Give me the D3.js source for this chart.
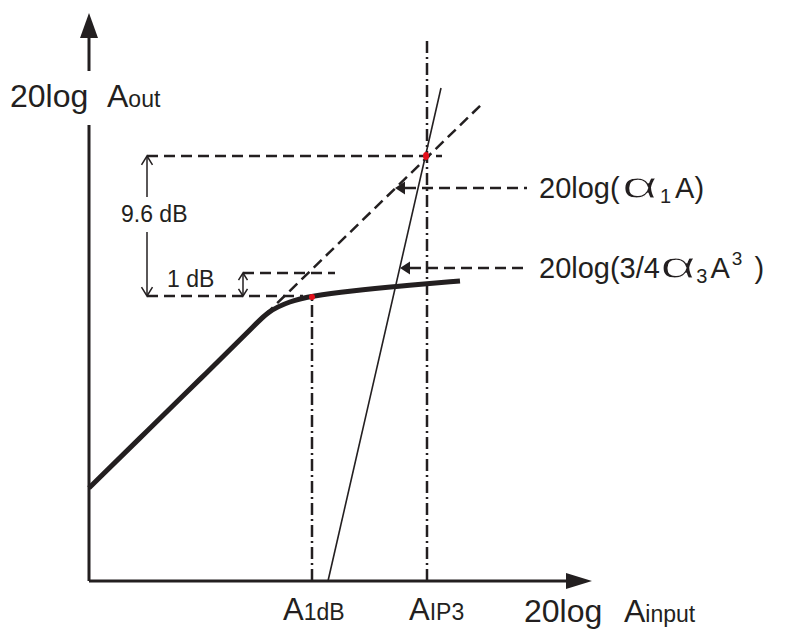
<!DOCTYPE html>
<html>
<head>
<meta charset="utf-8">
<script src="https://cdn.jsdelivr.net/npm/d3@7"></script>
<style>
  body { margin: 0; background: #fff; }
  svg { display: block; }
  text { font-family: "Liberation Sans", Arial, sans-serif; fill: #231f20; }
</style>
</head>
<body>
<div id="chart"></div>
<script>
// compression curve (input dB, output dB)
const curveIn = [0, 6.1, 11.1, 16.6, 17.8, 20.1, 22.3, 26.1, 31.1, 37.1]
const curveOut = [9.3, 15.28, 20.18, 25.57, 26.9, 28.0, 28.5, 29.0, 29.5, 30.0]

// linear extrapolation 20log(a1 A) and third order line 20log(3/4 a3 A^3)
const linearIn = [17.6, 39.4]
const linearOut = [26.6, 47.8]
const im3In = [23.9, 35.2]
const im3Out = [0, 49.3]

// key points
const p1dB = [22.3, 28.4]
const ip3 = [33.7, 42.5]
const oneDbTop = 30.8

const yAxisLabel = ["20log", "A", "out"]
const xAxisLabel = ["20log", "A", "input"]
const markLabels = [["A", "1dB"], ["A", "IP3"]]
const gapLabels = ["9.6 dB", "1 dB"]
const linearLabel = ["20log(", "α", "1", "A)"]
const im3Label = ["20log(3/4", "α", "3", "A", "3", " )"]

const width = 789, height = 633
const ink = "#231f20"

const svg = d3.select("#chart").append("svg")
  .attr("width", width).attr("height", height)

const x = d3.scaleLinear().domain([0, 50]).range([89, 589])
const y = d3.scaleLinear().domain([0, 57]).range([581, 11])

function seg(x1, y1, x2, y2) {
  return svg.append("line")
    .attr("x1", x(x1)).attr("y1", y(y1))
    .attr("x2", x(x2)).attr("y2", y(y2))
    .attr("stroke", ink)
}

// lays out pieces of text one after another, each with its own size / shift / stretch
function richText(x0, y0, pieces) {
  let cx = x0
  pieces.forEach(p => {
    const sx = p.sx || 1
    cx += p.dx || 0
    const t = svg.append("text").attr("x", 0).attr("y", 0)
      .style("font-size", p.size + "px")
      .attr("xml:space", "preserve")
      .text(p.t)
    if (p.thin) t.attr("stroke", "#fff").attr("stroke-width", p.thin)
    t.attr("transform", `translate(${cx},${y0 + (p.dy || 0)}) scale(${sx},1)`)
    cx += t.node().getComputedTextLength() * sx
  })
}

// ---- axes ----
seg(0, 0, 0, 45.6).attr("stroke-width", 3)
seg(0, 51, 0, 54.3).attr("stroke-width", 3)
svg.append("path")
  .attr("d", `M${x(0)},${y(56.8)} L${x(0) - 9},${y(54.3)} L${x(0) + 9},${y(54.3)} Z`)
  .attr("fill", ink)
seg(0, 0, 47.7, 0).attr("stroke-width", 3)
svg.append("path")
  .attr("d", `M${x(50.3)},${y(0)} L${x(47.7)},${y(0) - 8} L${x(47.7)},${y(0) + 8} Z`)
  .attr("fill", ink)

// ---- vertical dash-dot markers ----
seg(p1dB[0], 0, p1dB[0], p1dB[1])
  .attr("stroke-width", 2.5).attr("stroke-dasharray", "12,4,2,4")
seg(ip3[0] + 0.1, 0, ip3[0] + 0.1, 54.1)
  .attr("stroke-width", 2.5).attr("stroke-dasharray", "12,4,2,4")

// ---- horizontal dashed guides ----
seg(5.8, ip3[1], 35.3, ip3[1]).attr("stroke-width", 2.5).attr("stroke-dasharray", "11,6")
seg(5.8, p1dB[1] + 0.1, 21.4, p1dB[1] + 0.1).attr("stroke-width", 2.5).attr("stroke-dasharray", "11,6")
seg(15.4, oneDbTop, 24.6, oneDbTop).attr("stroke-width", 2.5).attr("stroke-dasharray", "11,6")

// ---- third order line ----
seg(im3In[0], im3Out[0], im3In[1], im3Out[1]).attr("stroke-width", 1.6)

// ---- linear extrapolation ----
seg(linearIn[0], linearOut[0], linearIn[1], linearOut[1])
  .attr("stroke-width", 2.5).attr("stroke-dasharray", "11,6")

// ---- compression curve ----
const curve = d3.line()
  .x(d => x(d[0])).y(d => y(d[1]))
  .curve(d3.curveBasis)
svg.append("path")
  .datum(d3.zip(curveIn, curveOut))
  .attr("d", curve)
  .attr("fill", "none").attr("stroke", ink)
  .attr("stroke-width", 5).attr("stroke-linecap", "butt")

// ---- red points ----
svg.append("ellipse").attr("cx", x(p1dB[0])).attr("cy", y(p1dB[1]))
  .attr("rx", 3).attr("ry", 3).attr("fill", "#e3101b")
svg.append("ellipse").attr("cx", x(ip3[0])).attr("cy", y(ip3[1]))
  .attr("rx", 3).attr("ry", 4).attr("fill", "#e3101b")

// ---- dimension arrows ----
function vHead(px, py, dir, s) {
  svg.append("path")
    .attr("d", `M${px - s},${py + dir * s * 1.6} L${px},${py} L${px + s},${py + dir * s * 1.6}`)
    .attr("fill", "none").attr("stroke", ink).attr("stroke-width", 1.5)
}
seg(5.8, ip3[1], 5.8, 38.4).attr("stroke-width", 1.5)
seg(5.8, 34.9, 5.8, p1dB[1] + 0.1).attr("stroke-width", 1.5)
vHead(x(5.8), y(ip3[1]), 1, 5.5)
vHead(x(5.8), y(p1dB[1] + 0.1), -1, 5.5)
svg.append("text").attr("x", 121).attr("y", 222)
  .style("font-size", "23px").text(gapLabels[0])

seg(15.4, oneDbTop, 15.4, p1dB[1] + 0.1).attr("stroke-width", 1.5)
vHead(x(15.4), y(oneDbTop), 1, 4.5)
vHead(x(15.4), y(p1dB[1] + 0.1), -1, 4.5)
svg.append("text").attr("x", 167).attr("y", 287)
  .style("font-size", "23px").text(gapLabels[1])

// ---- leaders ----
function leader(tipX, lvl) {
  const py = y(lvl)
  svg.append("path")
    .attr("d", `M${x(tipX)},${py} L${x(tipX) + 10},${py - 6.5} L${x(tipX) + 10},${py + 6.5} Z`)
    .attr("fill", ink)
  svg.append("line")
    .attr("x1", x(tipX) + 10).attr("y1", py).attr("x2", x(43.8)).attr("y2", py)
    .attr("stroke", ink).attr("stroke-width", 2.5).attr("stroke-dasharray", "11,6")
}
leader(30.6, 39.3)
leader(31.1, 31.3)

richText(539, 198, [
  { t: linearLabel[0], size: 29 },
  { t: linearLabel[1], size: 37, sx: 1.7, dx: 2, thin: 1.1 },
  { t: linearLabel[2], size: 20, dy: 5, dx: 2 },
  { t: linearLabel[3], size: 29, dx: 4 }
])
richText(539, 278, [
  { t: im3Label[0], size: 29 },
  { t: im3Label[1], size: 37, sx: 1.7, thin: 1.1 },
  { t: im3Label[2], size: 20, dy: 5 },
  { t: im3Label[3], size: 29, dx: 3 },
  { t: im3Label[4], size: 19, dy: -13, dx: 2 },
  { t: im3Label[5], size: 29, dx: 4 }
])

// ---- axis labels ----
svg.append("text").attr("x", 10).attr("y", 107).style("font-size", "32px").text(yAxisLabel[0])
richText(107, 107, [{ t: yAxisLabel[1], size: 32 }, { t: yAxisLabel[2], size: 23 }])

richText(283, 620, [{ t: markLabels[0][0], size: 31 }, { t: markLabels[0][1], size: 23 }])
richText(409, 620, [{ t: markLabels[1][0], size: 31 }, { t: markLabels[1][1], size: 23 }])

svg.append("text").attr("x", 524).attr("y", 622).style("font-size", "32px").text(xAxisLabel[0])
richText(624, 622, [{ t: xAxisLabel[1], size: 32 }, { t: xAxisLabel[2], size: 23 }])
</script>
</body>
</html>
